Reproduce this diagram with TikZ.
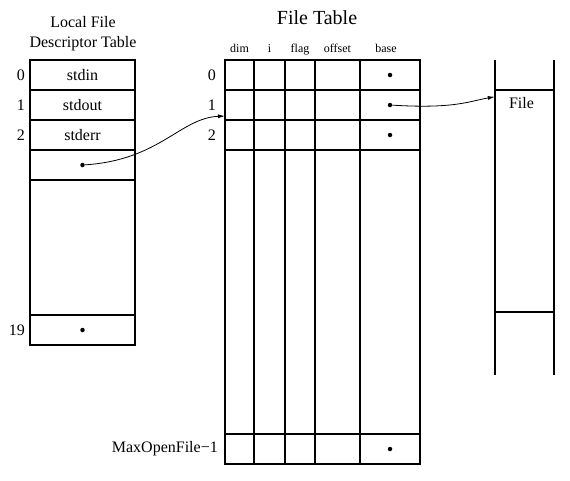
\documentclass[tikz,border=0pt]{standalone}
\usepackage{fontspec}
\setmainfont{Liberation Serif}
\usepackage{tikz}
\usetikzlibrary{positioning, calc, arrows.meta}

\begin{document}
\begin{tikzpicture}[x=1pt, y=-1pt]
    % Stili per le tabelle
    \tikzset{
        ld_cell/.style={
            draw=black, % Bordo visibile
            line width=1.5pt,
            minimum width=105pt, % Larghezza della cella
            minimum height=30pt, % Altezza della cella
            align=center, % Testo centrato
            font=\fontsize{16}{18}\selectfont,
            outer sep=0pt,
            inner sep=0pt
        },
        ft_cell/.style={
            draw=black, % Bordo visibile
            line width=1.5pt,
            minimum height=30pt, % Altezza della riga
            outer sep=0pt,
            inner sep=0pt
        },
        row_label/.style={
            font=\fontsize{16}{18}\selectfont,
            inner sep=1pt
        },
        col_label/.style={
            font=\fontsize{12}{14}\selectfont,
            text height=1.6ex, % Stessa altezza per tutte le etichette
            text depth=.3ex,
            inner sep=1pt
        },
        dot/.style={
            circle,
            fill=black,
            inner sep=0pt,
            minimum size=4.5pt
        },
        link/.style={
            line width=0.8pt,
            -{Latex[length=7pt,width=4pt]}
        }
    }

    \useasboundingbox (0,0) rectangle (570,480);

    % Tabella dei descrittori locali
    \node[font=\fontsize{16}{20}\selectfont, align=center] (ld_title) at (83,34) {Local File\\Descriptor Table};

    \node[ld_cell] (ld_row0) at (82.5,75) {stdin};
    \node[ld_cell] (ld_row1) at (82.5,105) {stdout};
    \node[ld_cell] (ld_row2) at (82.5,135) {stderr};
    \node[ld_cell] (ld_row3) at (82.5,165) {};
    \node[ld_cell, minimum height=135pt] (ld_gap) at (82.5,247.5) {};
    \node[ld_cell] (ld_row19) at (82.5,330) {};

    \node[row_label, left=4pt of ld_row0] (ld_lab0) {0};
    \node[row_label, left=4pt of ld_row1] (ld_lab1) {1};
    \node[row_label, left=4pt of ld_row2] (ld_lab2) {2};
    \node[row_label, left=4pt of ld_row19] (ld_lab19) {19};

    \node[dot] (ld_dot3) at (ld_row3.center) {};
    \node[dot] (ld_dot19) at (ld_row19.center) {};

    % Tabella dei file
    \node[font=\fontsize{20}{24}\selectfont] (ft_title) at (317,18) {File Table};

    % Riga 0
    \node[ft_cell, minimum width=29pt] (ft_row0_col1) at (239.5,75) {};
    \node[ft_cell, minimum width=31pt] (ft_row0_col2) at (269.5,75) {};
    \node[ft_cell, minimum width=30pt] (ft_row0_col3) at (300,75) {};
    \node[ft_cell, minimum width=45pt] (ft_row0_col4) at (337.5,75) {};
    \node[ft_cell, minimum width=60pt] (ft_row0_col5) at (390,75) {};

    % Riga 1
    \node[ft_cell, minimum width=29pt] (ft_row1_col1) at (239.5,105) {};
    \node[ft_cell, minimum width=31pt] (ft_row1_col2) at (269.5,105) {};
    \node[ft_cell, minimum width=30pt] (ft_row1_col3) at (300,105) {};
    \node[ft_cell, minimum width=45pt] (ft_row1_col4) at (337.5,105) {};
    \node[ft_cell, minimum width=60pt] (ft_row1_col5) at (390,105) {};

    % Riga 2
    \node[ft_cell, minimum width=29pt] (ft_row2_col1) at (239.5,135) {};
    \node[ft_cell, minimum width=31pt] (ft_row2_col2) at (269.5,135) {};
    \node[ft_cell, minimum width=30pt] (ft_row2_col3) at (300,135) {};
    \node[ft_cell, minimum width=45pt] (ft_row2_col4) at (337.5,135) {};
    \node[ft_cell, minimum width=60pt] (ft_row2_col5) at (390,135) {};

    % Spazio intermedio
    \node[ft_cell, minimum width=29pt, minimum height=284pt] (ft_gap_col1) at (239.5,292) {};
    \node[ft_cell, minimum width=31pt, minimum height=284pt] (ft_gap_col2) at (269.5,292) {};
    \node[ft_cell, minimum width=30pt, minimum height=284pt] (ft_gap_col3) at (300,292) {};
    \node[ft_cell, minimum width=45pt, minimum height=284pt] (ft_gap_col4) at (337.5,292) {};
    \node[ft_cell, minimum width=60pt, minimum height=284pt] (ft_gap_col5) at (390,292) {};

    % Ultima riga
    \node[ft_cell, minimum width=29pt] (ft_rowN_col1) at (239.5,449) {};
    \node[ft_cell, minimum width=31pt] (ft_rowN_col2) at (269.5,449) {};
    \node[ft_cell, minimum width=30pt] (ft_rowN_col3) at (300,449) {};
    \node[ft_cell, minimum width=45pt] (ft_rowN_col4) at (337.5,449) {};
    \node[ft_cell, minimum width=60pt] (ft_rowN_col5) at (390,449) {};

    % Intestazioni delle colonne
    \node[col_label, above=5pt of ft_row0_col1] (ft_head1) {dim};
    \node[col_label, above=5pt of ft_row0_col2] (ft_head2) {i};
    \node[col_label, above=5pt of ft_row0_col3] (ft_head3) {flag};
    \node[col_label, above=5pt of ft_row0_col4] (ft_head4) {offset};
    \node[col_label, above=5pt of ft_row0_col5, xshift=-4pt] (ft_head5) {base};

    % Indici delle righe
    \node[row_label, left=8pt of ft_row0_col1] (ft_lab0) {0};
    \node[row_label, left=8pt of ft_row1_col1] (ft_lab1) {1};
    \node[row_label, left=8pt of ft_row2_col1] (ft_lab2) {2};
    \node[row_label, left=6pt of ft_rowN_col1] (ft_labN) {MaxOpenFile−1};

    \node[dot] (ft_dot0) at (ft_row0_col5.center) {};
    \node[dot] (ft_dot1) at (ft_row1_col5.center) {};
    \node[dot] (ft_dot2) at (ft_row2_col5.center) {};
    \node[dot] (ft_dotN) at (ft_rowN_col5.center) {};

    % Il file
    \node[minimum width=59pt, minimum height=222pt, inner sep=0pt] (file_obj) at (524.5,201) {};
    \draw[line width=1.5pt] ([yshift=30pt]file_obj.north west) -- ([yshift=-63pt]file_obj.south west);
    \draw[line width=1.5pt] ([yshift=30pt]file_obj.north east) -- ([yshift=-63pt]file_obj.south east);
    \draw[line width=1.5pt] (file_obj.north west) -- (file_obj.north east);
    \draw[line width=1.5pt] (file_obj.south west) -- (file_obj.south east);
    \node[row_label, anchor=north west] (file_name) at ([xshift=13pt,yshift=-6pt]file_obj.north west) {File};

    % Collegamenti
    \draw[link] (ld_dot3) .. controls (160,160) and (180,118) .. ([yshift=4pt]ft_row1_col1.south west);
    \draw[link] (ft_dot1) .. controls (455,109) and (470,101) .. ([yshift=-7pt]file_obj.north west);

\end{tikzpicture}
\end{document}
